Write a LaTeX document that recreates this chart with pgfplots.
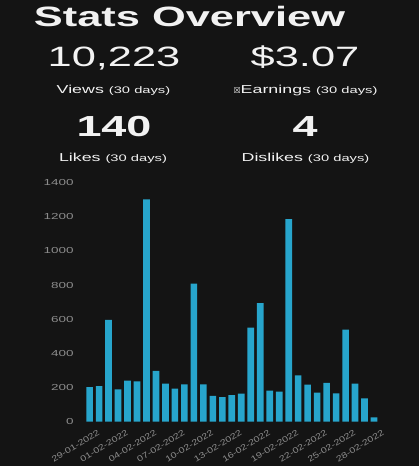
\documentclass[border=0pt]{standalone}
\usepackage{fontspec}
\usepackage{pgfplots}
\pgfplotsset{compat=1.18}
\setmainfont{Liberation Sans}
\newfontfamily\wide{Liberation Sans}[FakeStretch=1.55]
\newfontfamily\midwide{Liberation Sans}[FakeStretch=1.3]
\newfontfamily\dejavu{DejaVu Sans}
\definecolor{bg}{HTML}{141414}
\definecolor{barc}{HTML}{27A5CC}
\definecolor{tickc}{HTML}{8C8C8C}
\definecolor{fg}{HTML}{F2F2F2}
\pgfplotstableread{
x y
0 203
1 208
2 596
3 190
4 240
5 236
6 1303
7 297
8 223
9 194
10 219
11 809
12 219
13 151
14 144
15 156
16 165
17 551
18 695
19 182
20 176
21 1186
22 272
23 217
24 170
25 227
26 166
27 539
28 223
29 137
30 25
}\views
\begin{document}
\begin{tikzpicture}[x=1pt,y=1pt]
\path[use as bounding box] (0,0) rectangle (419,466);
\fill[bg] (0,0) rectangle (419,466);
\node[anchor=base, text=fg, inner sep=0pt, font=\wide\fontsize{28}{30}\selectfont\bfseries] at (189.5,439) {Stats Overview};
\node[anchor=base, text=fg, inner sep=0pt, font=\wide\fontsize{28}{30}\selectfont] at (114,399) {10,223};
\node[anchor=base, text=fg, inner sep=0pt, font=\wide\fontsize{28}{30}\selectfont] at (305,399) {\$3.07};
\node[anchor=base, text=fg, inner sep=0pt, font=\wide\fontsize{29}{30}\selectfont\bfseries] at (114,329) {140};
\node[anchor=base, text=fg, inner sep=0pt, font=\wide\fontsize{29}{30}\selectfont\bfseries] at (305,329) {4};
\node[anchor=base, text=fg, inner sep=0pt, font=\wide\fontsize{11.5}{13}\selectfont] at (113.5,372.5) {Views {\fontsize{9.5}{11}\selectfont(30 days)}};
\node[anchor=base, text=fg, inner sep=0pt, font=\wide\fontsize{11.5}{13}\selectfont] at (305.5,372.5) {{\dejavu\fontsize{8}{9}\selectfont ☒}Earnings {\fontsize{9.5}{11}\selectfont(30 days)}};
\node[anchor=base, text=fg, inner sep=0pt, font=\wide\fontsize{11.5}{13}\selectfont] at (113,304) {Likes {\fontsize{9.5}{11}\selectfont(30 days)}};
\node[anchor=base, text=fg, inner sep=0pt, font=\wide\fontsize{11.5}{13}\selectfont] at (305.5,304) {Dislikes {\fontsize{9.5}{11}\selectfont(30 days)}};
\begin{axis}[
  at={(84.86pt,44.3pt)}, anchor=south west,
  scale only axis, width=293.9pt, height=239pt,
  xmin=-0.5, xmax=30.5, ymin=0, ymax=1400,
  axis line style={draw=none},
  major tick length=0pt,
  ytick={0,200,...,1400},
  xtick={0,3,...,30},
  xticklabels={29-01-2022,01-02-2022,04-02-2022,07-02-2022,10-02-2022,13-02-2022,16-02-2022,19-02-2022,22-02-2022,25-02-2022,28-02-2022},
  /pgf/number format/assume math mode=true,
  /pgf/number format/1000 sep={},
  yticklabel style={font=\wide\fontsize{8.7}{10}\selectfont, text=tickc, anchor=east, inner sep=0pt, xshift=-11pt},
  xticklabel style={font=\midwide\fontsize{8.2}{9}\selectfont, text=tickc, rotate=32, anchor=north east, inner sep=0pt, xshift=2.7pt, yshift=-10pt},
  ybar, bar width=0.7,
]
\addplot[fill=barc, draw=none] table[x=x,y=y] {\views};
\end{axis}
\end{tikzpicture}
\end{document}
